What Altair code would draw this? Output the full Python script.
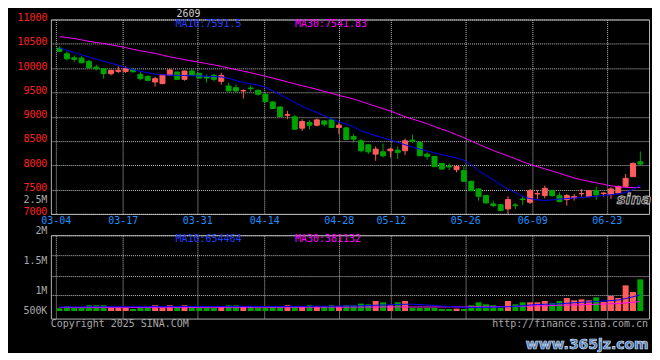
import altair as alt
import pandas as pd

# ---------------- data ----------------
label_dates = ["03-04", "03-17", "03-31", "04-14", "04-28", "05-12", "05-26", "06-09", "06-23"]
label_idx = [0, 9, 19, 28, 38, 45, 55, 64, 74]

opens = [10411, 10295, 10213, 10206, 10138, 10021, 9987, 9885, 9932, 9932,
         9973, 9871, 9830, 9714, 9680, 9858, 9919, 9769, 9940, 9892,
         9823, 9851, 9728, 9632, 9598, 9530, 9591, 9543, 9461, 9304,
         9201, 9030, 8996, 8764, 8880, 8825, 8914, 8934, 8777, 8770,
         8593, 8504, 8422, 8230, 8278, 8299, 8312, 8299, 8518, 8470,
         8230, 8183, 8039, 7980, 7909, 7889, 7670, 7513, 7376, 7205,
         7191, 7102, 7184, 7308, 7239, 7410, 7376, 7478, 7376, 7294,
         7328, 7414, 7355, 7478, 7417, 7396, 7430, 7567, 7766, 8073]
highs = [10445, 10343, 10261, 10247, 10172, 10069, 10001, 9967, 10035, 10035,
         10008, 9919, 9850, 9823, 9860, 9994, 9925, 9945, 9987, 9900,
         9871, 9878, 9905, 9700, 9666, 9563, 9645, 9560, 9495, 9310,
         9210, 9119, 9037, 8948, 8928, 8962, 8920, 8945, 8880, 8795,
         8641, 8538, 8430, 8388, 8449, 8367, 8388, 8552, 8627, 8490,
         8265, 8190, 8045, 8039, 7991, 7978, 7685, 7520, 7380, 7273,
         7200, 7362, 7225, 7376, 7513, 7492, 7581, 7500, 7444, 7410,
         7410, 7513, 7490, 7560, 7444, 7547, 7580, 7820, 8060, 8285]
lows = [10329, 10158, 10124, 10103, 9987, 9953, 9782, 9850, 9898, 9898,
        9905, 9748, 9727, 9618, 9670, 9850, 9755, 9741, 9850, 9790,
        9700, 9728, 9659, 9525, 9495, 9372, 9515, 9430, 9290, 9160,
        9000, 8948, 8740, 8709, 8736, 8800, 8800, 8770, 8641, 8520,
        8470, 8265, 8230, 8094, 8162, 8162, 8128, 8210, 8456, 8190,
        8114, 7965, 7910, 7902, 7854, 7670, 7465, 7273, 7215, 7137,
        7060, 7000, 7102, 7184, 7205, 7308, 7321, 7350, 7239, 7171,
        7273, 7355, 7350, 7287, 7355, 7307, 7420, 7547, 7766, 7991]
closes = [10343, 10192, 10179, 10110, 10008, 9987, 9885, 9953, 9953, 9987,
          9926, 9782, 9748, 9782, 9858, 9960, 9769, 9940, 9858, 9796,
          9796, 9769, 9851, 9530, 9530, 9537, 9577, 9461, 9311, 9167,
          9003, 9041, 8743, 8900, 8825, 8934, 8846, 8777, 8825, 8530,
          8538, 8299, 8278, 8333, 8196, 8333, 8265, 8504, 8497, 8196,
          8183, 7971, 7923, 7965, 7978, 7670, 7478, 7362, 7226, 7171,
          7068, 7294, 7171, 7294, 7478, 7420, 7526, 7376, 7253, 7376,
          7355, 7420, 7478, 7390, 7430, 7513, 7567, 7731, 8039, 8025]
ma10 = [10414, 10367, 10320, 10273, 10227, 10183, 10139, 10099, 10061, 10011,
        9968, 9934, 9904, 9875, 9863, 9856, 9851, 9847, 9842, 9838,
        9832, 9825, 9818, 9789, 9743, 9705, 9676, 9651, 9607, 9530,
        9453, 9377, 9292, 9214, 9148, 9086, 9020, 8955, 8895, 8848,
        8792, 8709, 8660, 8611, 8565, 8519, 8473, 8423, 8373, 8333,
        8295, 8257, 8220, 8185, 8152, 8106, 8006, 7889, 7794, 7698,
        7601, 7513, 7437, 7359, 7314, 7289, 7277, 7286, 7306, 7316,
        7326, 7337, 7349, 7362, 7378, 7394, 7413, 7441, 7500, 7591.5]
ma30 = [10648, 10629, 10609, 10581, 10550, 10528, 10507, 10480, 10452, 10421,
        10388, 10356, 10330, 10303, 10267, 10232, 10203, 10175, 10147, 10120,
        10093, 10066, 10036, 10002, 9969, 9937, 9905, 9869, 9833, 9795,
        9756, 9716, 9675, 9637, 9601, 9563, 9522, 9481, 9439, 9402,
        9364, 9314, 9264, 9214, 9166, 9117, 9059, 9000, 8951, 8906,
        8854, 8797, 8742, 8693, 8630, 8567, 8501, 8435, 8369, 8304,
        8247, 8193, 8135, 8073, 8020, 7972, 7928, 7882, 7835, 7787,
        7739, 7702, 7671, 7639, 7607, 7578, 7559, 7545, 7542, 7541.83]
volumes = [108000, 188000, 121000, 161000, 228000, 228000, 228000, 135000, 135000, 135000,
           81000, 161000, 135000, 228000, 135000, 228000, 161000, 228000, 161000, 135000,
           135000, 135000, 188000, 228000, 228000, 188000, 188000, 135000, 135000, 161000,
           188000, 228000, 161000, 188000, 228000, 188000, 188000, 228000, 188000, 228000,
           228000, 295000, 268000, 401000, 348000, 228000, 348000, 401000, 135000, 135000,
           135000, 135000, 81000, 81000, 95000, 81000, 228000, 348000, 268000, 228000,
           135000, 401000, 268000, 348000, 348000, 348000, 401000, 321000, 401000, 521000,
           428000, 468000, 428000, 548000, 361000, 601000, 521000, 1028000, 761000, 1268000]
vma10 = [160000, 160000, 160000, 165000, 165000, 170000, 170000, 170000, 170000, 170000,
         170000, 170000, 170000, 175000, 175000, 175000, 175000, 180000, 180000, 180000,
         180000, 180000, 180000, 180000, 185000, 185000, 185000, 180000, 180000, 180000,
         180000, 180000, 185000, 185000, 185000, 190000, 190000, 190000, 195000, 200000,
         200000, 210000, 220000, 230000, 240000, 250000, 260000, 270000, 270000, 260000,
         240000, 220000, 200000, 180000, 160000, 150000, 140000, 140000, 150000, 150000,
         160000, 170000, 190000, 210000, 240000, 260000, 270000, 280000, 290000, 310000,
         330000, 350000, 360000, 380000, 400000, 420000, 440000, 500000, 570000, 654464]
vma30 = [140000, 140000, 140000, 140000, 140000, 141000, 141000, 142000, 142000, 143000,
         143000, 144000, 144000, 145000, 145000, 146000, 146000, 147000, 147000, 148000,
         148000, 149000, 149000, 150000, 150000, 151000, 151000, 152000, 152000, 153000,
         153000, 154000, 154000, 155000, 155000, 156000, 156000, 157000, 157000, 158000,
         158000, 159000, 159000, 160000, 160000, 161000, 161000, 162000, 162000, 163000,
         163000, 163000, 164000, 164000, 164000, 165000, 165000, 166000, 167000, 170000,
         175000, 180000, 185000, 190000, 200000, 205000, 210000, 220000, 230000, 235000,
         240000, 250000, 260000, 270000, 280000, 290000, 300000, 320000, 350000, 381132]
price_ticks = [7000, 7500, 8000, 8500, 9000, 9500, 10000, 10500, 11000]
vol_tick_labels = ["2M", "1.5M", "1M", "500K"]

# ---------------- styling ----------------
FONT = "DejaVu Sans Mono"
UP, DOWN = "#ff5c5c", "#00a400"
BLUE_LINE, BLUE_TXT, MAG = "#0000ff", "#2040ff", "#ff00ff"
GRID, FRAME, GREY = "#c4c4c4", "#b0b0b0", "#a8a8a8"

n = len(opens)
df = pd.DataFrame({
    "i": list(range(n)), "open": opens, "high": highs, "low": lows, "close": closes,
    "ma10": ma10, "ma30": ma30, "vol": volumes, "vma10": vma10, "vma30": vma30,
})
df["dir"] = ["up" if c >= o else "down" for o, c in zip(opens, closes)]

dir_scale = alt.Scale(domain=["up", "down"], range=[UP, DOWN])
x_scale = alt.Scale(domain=[-0.5, n - 0.5], nice=False, zero=False)
tick_vals = [d * n / (n - 1) - 0.5 for d in label_idx]
label_expr = "".join(
    f"datum.value < {t + 0.3:.3f} ? '{lab}' : " for t, lab in zip(tick_vals[:-1], label_dates[:-1])
) + f"'{label_dates[-1]}'"

grid_kw = dict(grid=True, gridColor=GRID, gridDash=[1, 1], gridWidth=1, ticks=False, domain=False, title=None)

x_top = alt.X("i:Q", scale=x_scale, axis=alt.Axis(
    values=tick_vals, labelExpr=label_expr, labelColor="#1f8fff", labelFont=FONT,
    labelFontSize=10, labelPadding=2, labelFlush=False, labelOverlap=False, labelAngle=0, **grid_kw))
x_bot = alt.X("i:Q", scale=x_scale, axis=alt.Axis(values=tick_vals, labels=False, **grid_kw))

p_scale = alt.Scale(domain=[7000, 11000], nice=False, zero=False)
p_axis = alt.Axis(
    values=price_ticks + [7250],
    labelExpr="datum.value == 7250 ? '2.5M' : format(datum.value, 'd')",
    labelColor={"condition": {"test": "datum.value == 7250", "value": GREY}, "value": "#ff2020"},
    gridOpacity={"condition": {"test": "datum.value == 7250", "value": 0}, "value": 1},
    labelFont=FONT, labelFontSize=10, labelPadding=4, labelOffset=-2, **grid_kw)


def py(field):
    return alt.Y(field, type="quantitative", scale=p_scale, axis=p_axis)


wicks = alt.Chart(df).mark_rule(strokeWidth=1).encode(
    x=x_top, y=py("low"), y2="high:Q",
    color=alt.Color("dir:N", scale=dir_scale, legend=None))
bodies = alt.Chart(df).mark_bar(size=5, strokeWidth=1).encode(
    x=x_top, y=py("open"), y2="close:Q",
    fill=alt.Fill("dir:N", scale=dir_scale, legend=None),
    stroke=alt.Stroke("dir:N", scale=dir_scale, legend=None))
l10 = alt.Chart(df).mark_line(color=BLUE_LINE, strokeWidth=1).encode(x=x_top, y=py("ma10"))
l30 = alt.Chart(df).mark_line(color=MAG, strokeWidth=1).encode(x=x_top, y=py("ma30"))

one = pd.DataFrame({"a": [0]})


def txt(s, x, y, color, align="left", size=10, **kw):
    return alt.Chart(one).mark_text(text=s, align=align, baseline="middle", font=kw.pop("font", FONT),
                                    fontSize=size, color=color, **kw).encode(
        x=alt.value(x), y=alt.value(y))


top = alt.layer(
    wicks, bodies, l30, l10,
    txt("2609", 138, -5.3, "#d0d0d0", align="center"),
    txt("MA10:7591.5", 125, 5, BLUE_TXT),
    txt("MA30:7541.83", 245, 5, MAG),
    txt("sina", 585, 180, "#1a1a1a", align="center", size=15, font="DejaVu Sans",
        fontStyle="italic", fontWeight="bold", stroke="#bfbfbf", strokeWidth=0.8),
).properties(width=600, height=195)

v_scale = alt.Scale(domain=[-304000, 3040000], nice=False, zero=False)
v_axis = alt.Axis(
    values=[3040000, 2230000, 1420000, 620000],
    labelExpr=f"datum.value > 3000000 ? '{vol_tick_labels[0]}' : datum.value > 2000000 ? '{vol_tick_labels[1]}'"
              f" : datum.value > 1000000 ? '{vol_tick_labels[2]}' : '{vol_tick_labels[3]}'",
    labelOffset={"condition": [{"test": "datum.value > 3000000", "value": -5},
                               {"test": "datum.value > 2000000", "value": 5}], "value": 15},
    labelColor=GREY, labelFont=FONT, labelFontSize=10, labelPadding=4, **grid_kw)


def vy(field):
    return alt.Y(field, type="quantitative", scale=v_scale, axis=v_axis)


vbars = alt.Chart(df).mark_bar(size=6).encode(
    x=x_bot, y=vy("vol"), color=alt.Color("dir:N", scale=dir_scale, legend=None))
vl10 = alt.Chart(df).mark_line(color=BLUE_LINE, strokeWidth=1).encode(x=x_bot, y=vy("vma10"))
vl30 = alt.Chart(df).mark_line(color=MAG, strokeWidth=1).encode(x=x_bot, y=vy("vma30"))

bottom = alt.layer(
    vbars, vl30, vl10,
    txt("MA10:654464", 125, 4, BLUE_TXT),
    txt("MA30:381132", 245, 4, MAG),
    txt("Copyright 2025 SINA.COM", 0, 89, GREY),
    txt("http://finance.sina.com.cn", 599, 89, GREY, align="right"),
    txt("www.365jz.com", 538, 110, "#4a78c0", align="center", size=14, font="DejaVu Sans",
        fontWeight="bold", stroke="#d8e0ee", strokeWidth=0.7),
).properties(width=600, height=83.6)

chart = alt.vconcat(top, bottom, spacing=21.4, bounds="flush").properties(
    padding={"left": 8, "top": 0, "right": 0, "bottom": 0}, background="black"
).configure_view(stroke=FRAME, strokeWidth=1, fill="black")

chart.save("out.html", embed_options={"renderer": "svg", "actions": False})
